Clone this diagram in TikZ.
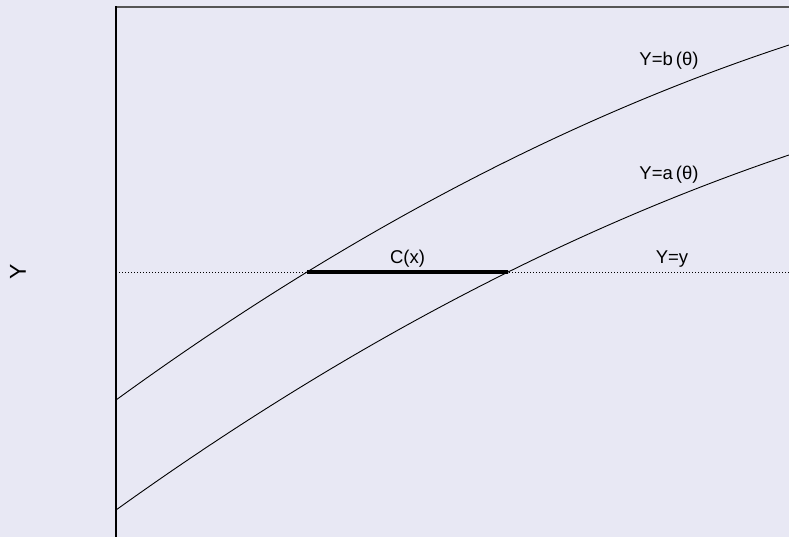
\documentclass[tikz,border=0pt]{standalone}
\usepackage{fontspec}
\setmainfont{Liberation Sans}
\usetikzlibrary{intersections}
\definecolor{bgcol}{RGB}{232,232,244}
\definecolor{framegrey}{RGB}{85,85,85}
\tikzset{
  curveline/.style={black, line width=0.9pt},
  levelline/.style={black, line width=0.8pt, dash pattern=on 1.2pt off 1.8pt},
  setline/.style={black, line width=3.6pt},
  lbl/.style={font=\fontsize{18.5}{20}\selectfont, inner sep=0pt},
  axlbl/.style={font=\fontsize{23}{25}\selectfont, inner sep=0pt, rotate=90}
}
\begin{document}
\begin{tikzpicture}[x=1pt,y=-1pt]
\fill[bgcol] (0,0) rectangle (789,537);
\useasboundingbox (0,0) rectangle (789,537);
% frame
\draw[framegrey, line width=2pt] (116,7) -- (789,7);
\draw[black, line width=1.3pt] (116,6.5) -- (116,537);
% level line
\draw[levelline, name path=yline] (116,272) -- (789,272);
% curves
\draw[curveline, name path=bcurve] (116,400) .. controls (340.33,237) and (564.67,118.67) .. (789,45);
\draw[curveline, name path=acurve] (116,510) .. controls (340.33,349) and (564.67,230.67) .. (789,155);
% interval
\path[name intersections={of=bcurve and yline, by=P}];
\path[name intersections={of=acurve and yline, by=Q}];
\draw[setline] (P) -- (Q);
% labels
\node[lbl] (lb) at (669,61) {Y=b\,(θ)};
\node[lbl] (la) at (669,175) {Y=a\,(θ)};
\node[lbl] (lc) at (407.5,259) {C(x)};
\node[lbl] (ly) at (672,259) {Y=y};
\node[axlbl] (yax) at (18,272) {Y};
\end{tikzpicture}
\end{document}
